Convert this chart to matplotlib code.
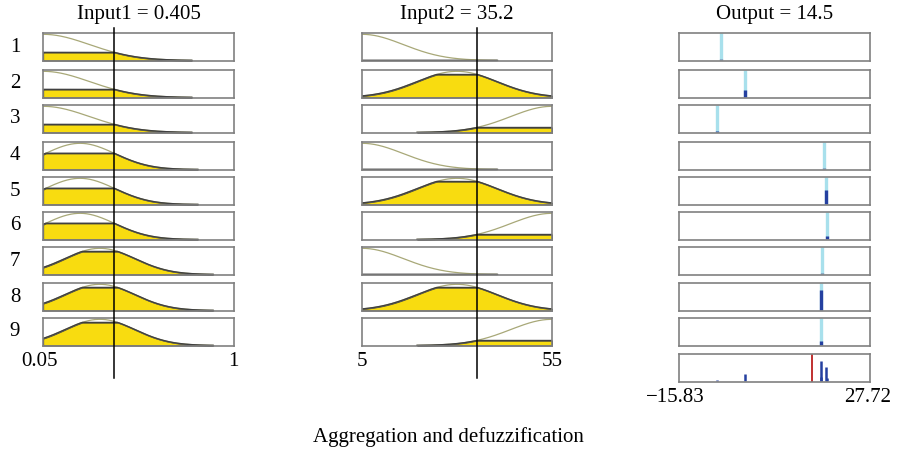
import numpy as np
import matplotlib
matplotlib.use('Agg')
import matplotlib.pyplot as plt
from matplotlib.lines import Line2D

plt.rcParams['font.family'] = ['Liberation Serif', 'DejaVu Serif']

# input ranges and current inputs
in1_range = (0.05, 1.0)
in2_range = (5.0, 55.0)
out_range = (-15.83, 27.72)
in1_value = 0.405
in2_value = 35.2
out_value = 14.5

# gaussian membership functions (center, sigma, drawn span)
in1_centers = [0.05, 0.234, 0.333]
in1_sigmas = [0.232, 0.174, 0.174]
in1_spans = [(0.05, 0.79), (0.05, 0.82), (0.05, 0.896)]
in1_degrees = [0.31, 0.62, 0.88]

in2_centers = [5.0, 30.0, 55.0]
in2_sigmas = [10.9, 10.5, 10.9]
in2_spans = [(5.0, 40.5), (5.0, 55.0), (19.5, 55.0)]
in2_degrees = [0.0, 0.88, 0.19]

# rule outputs (singletons) and firing strengths
rule_outputs = [-6.25, -0.78, -7.17, 17.16, 17.7, 18.0, 16.8, 16.5, 16.5]
rule_weights = [0.0, 0.27, 0.06, 0.0, 0.55, 0.12, 0.0, 0.80, 0.17]

W, H = 897, 454
row_tops = [33, 70, 105, 142, 177, 212, 247, 283, 318]
row_h = 28
col_x = [43, 362, 679]
col_w = [191, 190, 191]
agg_top = 354

YELLOW = '#f8dc10'
OLIVE = '#a8a878'
EDGE = '#404040'
BOX = '#808080'
CYAN = '#a8e0ec'
BLUE = '#2540a0'
RED = '#c03030'


def px_axes(fig, x, top, w, h):
    ax = fig.add_axes([x / W, 1 - (top + h) / H, w / W, h / H])
    ax.set_xticks([])
    ax.set_yticks([])
    for s in ax.spines.values():
        s.set_color(BOX)
        s.set_linewidth(1.2)
    ax.set_ylim(-0.02, 1.05)
    return ax


def draw_mf(ax, c, sig, span, level, xr):
    x = np.linspace(span[0], span[1], 200)
    mf = np.exp(-(x - c) ** 2 / (2 * sig ** 2))
    ax.fill_between(x, 0, np.minimum(mf, level), facecolor=YELLOW,
                    edgecolor=EDGE, linewidth=0.9)
    ax.plot(x, mf, color=OLIVE, lw=0.9)
    ax.plot(x, np.minimum(mf, level), color=EDGE, lw=1.0)
    ax.set_xlim(*xr)


fig = plt.figure(figsize=(W / 100, H / 100), dpi=100)

for i in range(9):
    a, b = i // 3, i % 3
    ax1 = px_axes(fig, col_x[0], row_tops[i], col_w[0], row_h)
    draw_mf(ax1, in1_centers[a], in1_sigmas[a], in1_spans[a], in1_degrees[a], in1_range)
    ax2 = px_axes(fig, col_x[1], row_tops[i], col_w[1], row_h)
    draw_mf(ax2, in2_centers[b], in2_sigmas[b], in2_spans[b], in2_degrees[b], in2_range)

    ax3 = px_axes(fig, col_x[2], row_tops[i], col_w[2], row_h)
    ax3.set_xlim(*out_range)
    ax3.vlines(rule_outputs[i], 0, 1.05, color=CYAN, lw=2.4)
    w = rule_weights[i]
    ax3.vlines(rule_outputs[i], 0, max(w, 0.04), color=BLUE if w > 0 else '#7080a8', lw=2.4)

    fig.text(15 / W, 1 - (row_tops[i] + row_h / 2) / H, str(i + 1),
             ha='center', va='center', fontsize=15)

# aggregated output
axa = px_axes(fig, col_x[2], agg_top, col_w[2], row_h)
axa.set_xlim(*out_range)
for z, w in zip(rule_outputs, rule_weights):
    if w > 0:
        axa.vlines(z, 0, w, color=BLUE, lw=1.8)
axa.vlines(out_value, -0.02, 1.05, color=RED, lw=1.4)

# input lines through all rules
for x0, w0, rng, v in [(col_x[0], col_w[0], in1_range, in1_value),
                       (col_x[1], col_w[1], in2_range, in2_value)]:
    xp = x0 + (v - rng[0]) / (rng[1] - rng[0]) * w0
    fig.add_artist(Line2D([xp / W, xp / W], [1 - 28 / H, 1 - 378 / H],
                          color='black', lw=1.1, transform=fig.transFigure))

# titles
fig.text((col_x[0] + col_w[0] / 2) / W, 1 - 15 / H, 'Input1 = 0.405', ha='center', va='center', fontsize=15)
fig.text((col_x[1] + col_w[1] / 2) / W, 1 - 15 / H, 'Input2 = 35.2', ha='center', va='center', fontsize=15)
fig.text((col_x[2] + col_w[2] / 2) / W, 1 - 15 / H, 'Output = 14.5', ha='center', va='center', fontsize=15)

# range labels
fig.text(39 / W, 1 - 361 / H, '0.05', ha='center', va='center', fontsize=15)
fig.text(233 / W, 1 - 361 / H, '1', ha='center', va='center', fontsize=15)
fig.text(362 / W, 1 - 361 / H, '5', ha='center', va='center', fontsize=15)
fig.text(552 / W, 1 - 361 / H, '55', ha='center', va='center', fontsize=15)
fig.text(675 / W, 1 - 397 / H, '\u221215.83', ha='center', va='center', fontsize=15)
fig.text(868 / W, 1 - 397 / H, '27.72', ha='center', va='center', fontsize=15)

fig.text(448 / W, 1 - 437 / H, 'Aggregation and defuzzification', ha='center', va='center', fontsize=15)

fig.savefig('out.png', dpi=100)
